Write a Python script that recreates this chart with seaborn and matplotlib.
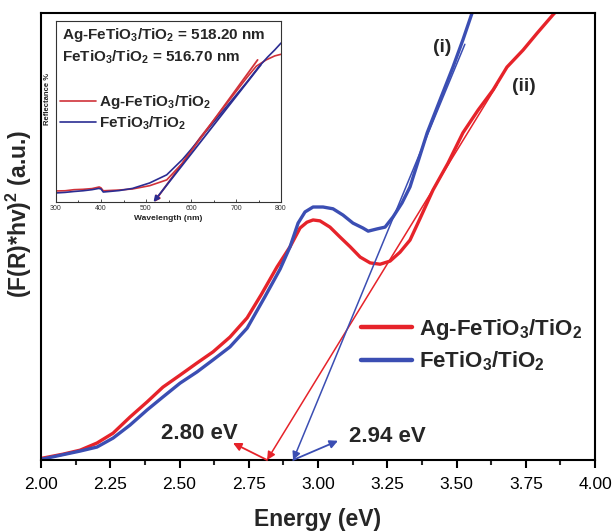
import matplotlib
matplotlib.use("Agg")
import matplotlib.pyplot as plt
from matplotlib.lines import Line2D
import pandas as pd
import seaborn as sns

# ---------------- main Tauc plot data ----------------
energy_ag = [2.004, 2.079, 2.141, 2.202, 2.260, 2.321, 2.383, 2.440, 2.502, 2.563,
             2.621, 2.682, 2.744, 2.795, 2.852, 2.899, 2.935, 2.960, 2.982, 3.007,
             3.043, 3.079, 3.116, 3.152, 3.188, 3.224, 3.260, 3.296, 3.332, 3.368,
             3.415, 3.469, 3.523, 3.578, 3.632, 3.682, 3.740, 3.791, 3.848, 3.892]
tauc_ag = [0.4, 1.3, 2.2, 3.8, 6.0, 9.6, 13.0, 16.3, 19.0, 21.7,
           24.2, 27.5, 31.8, 37.0, 43.2, 47.7, 51.9, 53.2, 53.7, 53.5,
           52.1, 49.9, 47.7, 45.4, 44.1, 43.8, 44.5, 46.5, 49.2, 54.0,
           60.4, 66.4, 73.2, 78.3, 82.8, 87.9, 91.7, 95.5, 99.6, 102.5]

energy_fe = [2.004, 2.141, 2.202, 2.260, 2.321, 2.383, 2.440, 2.502, 2.563, 2.621,
             2.682, 2.744, 2.808, 2.863, 2.899, 2.928, 2.953, 2.982, 3.018, 3.054,
             3.090, 3.126, 3.162, 3.181, 3.213, 3.242, 3.271, 3.303, 3.332, 3.394,
             3.440, 3.487, 3.523, 3.556, 3.578]
tauc_fe = [0.2, 2.0, 2.9, 4.9, 7.8, 11.2, 14.1, 17.2, 19.7, 22.4,
           25.3, 29.5, 36.5, 42.7, 47.7, 53.0, 55.5, 56.6, 56.6, 56.2,
           54.8, 53.0, 51.9, 51.2, 51.7, 52.1, 54.4, 57.5, 61.1, 73.2,
           80.5, 87.9, 94.0, 100.0, 102.9]

samples = ["Ag-FeTiO$_3$/TiO$_2$", "FeTiO$_3$/TiO$_2$"]
band_gaps = ["2.80 eV", "2.94 eV"]
# tangent lines (energy, value) : top end, x-intercept
tangent_ag = [(3.646, 83.9), (2.816, 0.0)]
tangent_fe = [(3.530, 93.0), (2.910, 0.0)]

x_ticks = [2.00, 2.25, 2.50, 2.75, 3.00, 3.25, 3.50, 3.75, 4.00]

# ---------------- inset reflectance data ----------------
wl_ag = [300, 320, 340, 360, 380, 396, 400, 405, 440, 470, 508, 546, 581, 600,
         620, 650, 700, 725, 745, 767, 786, 800]
refl_ag = [0.061, 0.062, 0.068, 0.070, 0.074, 0.083, 0.078, 0.062, 0.066, 0.072,
           0.090, 0.122, 0.215, 0.285, 0.355, 0.450, 0.610, 0.690, 0.750, 0.785,
           0.807, 0.816]
wl_fe = [300, 320, 340, 360, 380, 395, 400, 405, 440, 470, 508, 546, 581, 600,
         620, 650, 700, 725, 750, 770, 786, 800]
refl_fe = [0.050, 0.053, 0.058, 0.062, 0.068, 0.075, 0.072, 0.055, 0.063, 0.075,
           0.105, 0.150, 0.235, 0.290, 0.350, 0.440, 0.590, 0.665, 0.745, 0.800,
           0.840, 0.878]
inset_tangent_ag = [(748, 0.785), (518.2, 0.0)]
inset_tangent_fe = [(755, 0.757), (516.7, 0.0)]
inset_notes = ["Ag-FeTiO$_3$/TiO$_2$ = 518.20 nm", "FeTiO$_3$/TiO$_2$ = 516.70 nm"]
inset_ticks = [300, 400, 500, 600, 700, 800]

# ---------------- style ----------------
sns.set_theme(style="ticks")
plt.rcParams["font.family"] = ["Liberation Sans", "DejaVu Sans"]
plt.rcParams["mathtext.fontset"] = "custom"
plt.rcParams["mathtext.rm"] = "Liberation Sans:bold"
plt.rcParams["mathtext.it"] = "Liberation Sans:bold:italic"
plt.rcParams["mathtext.bf"] = "Liberation Sans:bold"

RED = "#E6232A"
BLUE = "#3B4EB3"
IRED = "#D0323A"
IBLUE = "#2B2D92"

fig = plt.figure(figsize=(6.16, 5.31), dpi=100)
ax = fig.add_axes([0.0666, 0.1337, 0.8994, 0.8418])

df = pd.concat([
    pd.DataFrame({"E": energy_ag, "T": tauc_ag, "s": samples[0]}),
    pd.DataFrame({"E": energy_fe, "T": tauc_fe, "s": samples[1]}),
])
sns.lineplot(data=df, x="E", y="T", hue="s", palette={samples[0]: RED, samples[1]: BLUE},
             estimator=None, sort=False, lw=2.4, ax=ax, legend=False)
for ln in ax.lines:
    ln.set_solid_joinstyle("round")

for tan, col in [(tangent_ag, RED), (tangent_fe, BLUE)]:
    ax.annotate("", xy=tan[1], xytext=tan[0],
                arrowprops=dict(arrowstyle="-|>", color=col, lw=1.1,
                                mutation_scale=12, shrinkA=0, shrinkB=0))
# short arrows pointing to band-gap labels
ax.annotate("", xy=(2.693, 3.8), xytext=(2.816, 0.0),
            arrowprops=dict(arrowstyle="-|>", color=RED, lw=1.3, mutation_scale=12,
                            shrinkA=0, shrinkB=0))
ax.annotate("", xy=(3.072, 4.3), xytext=(2.910, 0.0),
            arrowprops=dict(arrowstyle="-|>", color=BLUE, lw=1.3, mutation_scale=12,
                            shrinkA=0, shrinkB=0))
ax.text(2.57, 6.0, band_gaps[0], fontsize=16, fontweight="bold", ha="center", va="center")
ax.text(3.25, 5.3, band_gaps[1], fontsize=16, fontweight="bold", ha="center", va="center")
ax.text(3.448, 92.3, "(i)", fontsize=14, fontweight="bold", ha="center", va="center")
ax.text(3.744, 83.5, "(ii)", fontsize=14, fontweight="bold", ha="center", va="center")

ax.set_xlim(2.0, 4.0)
ax.set_ylim(0, 100)
ax.set_xticks(x_ticks)
ax.set_xticklabels([f"{t:.2f}" for t in x_ticks])
ax.set_xticks([t + 0.125 for t in x_ticks[:-1]], minor=True)
ax.set_yticks([])
ax.tick_params(axis="x", which="major", direction="out", length=6, width=1.5,
               labelsize=12.5, pad=6, colors="black")
ax.tick_params(axis="x", which="minor", direction="out", length=3.5, width=1.5)
for sp in ax.spines.values():
    sp.set_visible(True)
    sp.set_linewidth(1.5)
    sp.set_color("black")
ax.set_xlabel("Energy (eV)", fontsize=16.5, fontweight="bold", labelpad=12)
ax.set_ylabel("(F(R)*hv)$^2$ (a.u.)", fontsize=16.5, fontweight="bold")
ax.yaxis.set_label_coords(-0.012, 0.55)

handles = [Line2D([], [], color=RED, lw=3.2), Line2D([], [], color=BLUE, lw=3.2)]
ax.legend(handles, samples, loc="upper left", bbox_to_anchor=(0.578, 0.321),
          frameon=False, borderpad=0, borderaxespad=0, handlelength=2.3,
          handletextpad=0.3, labelspacing=0.35,
          prop={"size": 16, "weight": "bold"})

# ---------------- inset ----------------
ins = fig.add_axes([0.0909, 0.6196, 0.3653, 0.3409])
dfi = pd.concat([
    pd.DataFrame({"w": wl_ag, "r": refl_ag, "s": samples[0]}),
    pd.DataFrame({"w": wl_fe, "r": refl_fe, "s": samples[1]}),
])
sns.lineplot(data=dfi, x="w", y="r", hue="s", palette={samples[0]: IRED, samples[1]: IBLUE},
             estimator=None, sort=False, lw=1.2, ax=ins, legend=False)
for tan, col in [(inset_tangent_ag, IRED), (inset_tangent_fe, IBLUE)]:
    ins.annotate("", xy=tan[1], xytext=tan[0],
                 arrowprops=dict(arrowstyle="-|>", color=col, lw=1.3,
                                 mutation_scale=8, shrinkA=0, shrinkB=0))
ins.set_xlim(300, 800)
ins.set_ylim(0, 1)
ins.set_xticks(inset_ticks)
ins.set_xticks([t + 50 for t in inset_ticks[:-1]], minor=True)
ins.set_yticks([])
ins.tick_params(axis="x", which="major", direction="in", length=2, width=0.6,
                labelsize=5, pad=2, colors="#333333")
ins.tick_params(axis="x", which="minor", direction="in", length=1.2, width=0.6)
for sp in ins.spines.values():
    sp.set_visible(True)
    sp.set_linewidth(0.8)
    sp.set_color("#333333")
ins.set_xlabel("Wavelength (nm)", fontsize=6, fontweight="bold", labelpad=2, color="#222222")
ins.set_ylabel("Reflectance %", fontsize=5.5, fontweight="bold", labelpad=2, color="#222222")
ins.yaxis.set_label_coords(-0.02, 0.57)
ins.text(0.027, 0.92, inset_notes[0], transform=ins.transAxes, fontsize=11,
         fontweight="bold", ha="left", va="center")
ins.text(0.027, 0.80, inset_notes[1], transform=ins.transAxes, fontsize=11,
         fontweight="bold", ha="left", va="center")
ihandles = [Line2D([], [], color=IRED, lw=1.2), Line2D([], [], color=IBLUE, lw=1.2)]
ins.legend(ihandles, samples, loc="upper left", bbox_to_anchor=(0.02, 0.60),
           frameon=False, borderpad=0, borderaxespad=0, handlelength=2.3,
           handletextpad=0.25, labelspacing=0.2, prop={"size": 11, "weight": "bold"})

fig.savefig("out.png", dpi=100)
